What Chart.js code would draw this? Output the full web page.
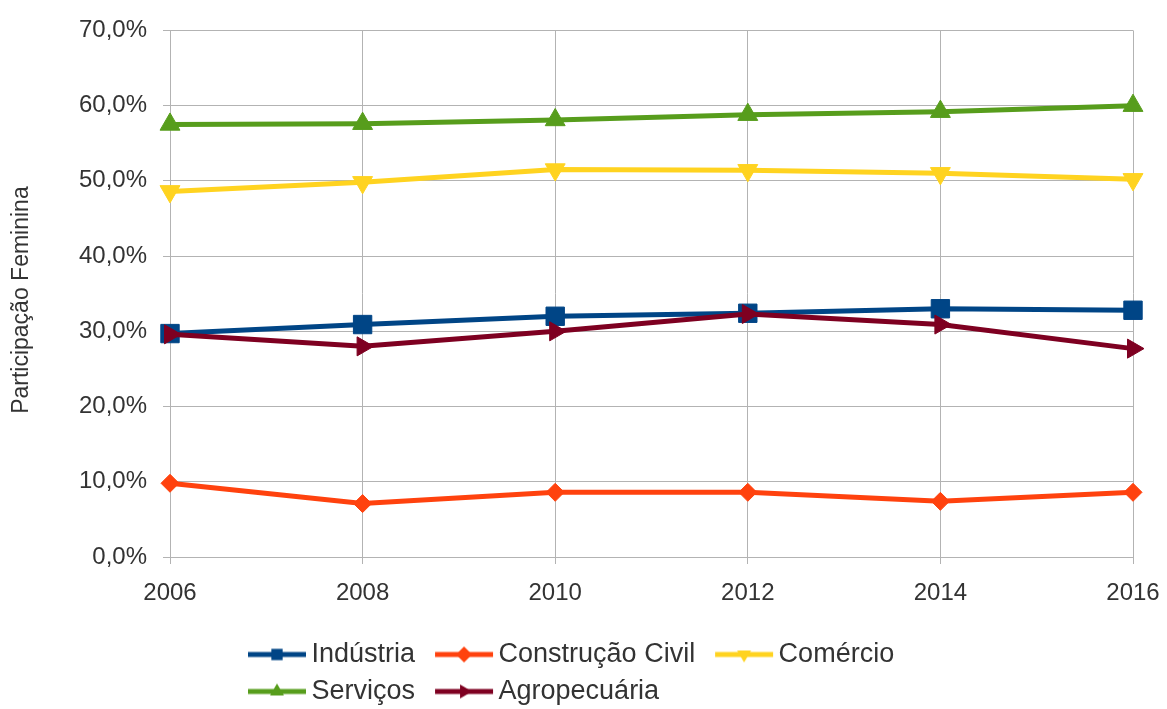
<!DOCTYPE html>
<html lang="pt">
<head>
  <meta charset="UTF-8" />
  <title>Participação Feminina</title>
  <script src="https://cdn.jsdelivr.net/npm/chart.js"></script>
  <style>
    body {
      margin: 0;
      background: #fff;
    }
    canvas {
      display: block;
    }
  </style>
</head>
<body>
  <canvas id="chart" width="1167" height="709"></canvas>

  <script>
    // data
    const years = ['2006', '2008', '2010', '2012', '2014', '2016'];
    const industria = [29.7, 30.9, 32.0, 32.4, 33.0, 32.8];
    const construcao = [9.8, 7.1, 8.6, 8.6, 7.4, 8.6];
    const comercio = [48.6, 49.8, 51.5, 51.4, 51.0, 50.2];
    const servicos = [57.5, 57.6, 58.1, 58.8, 59.2, 60.0];
    const agro = [29.6, 28.0, 30.0, 32.3, 30.9, 27.7];
    const yTicks = [0, 10, 20, 30, 40, 50, 60, 70];

    const FONT = "'Liberation Sans', Arial, sans-serif";
    const TEXT = '#333';
    const GRID = '#b3b3b3';

    function series(label, data, color, style, rotation, radius, order) {
      return {
        label: label,
        data: data,
        borderColor: color,
        backgroundColor: color,
        borderWidth: 5,
        pointStyle: style,
        pointRotation: rotation,
        pointRadius: radius,
        pointHoverRadius: radius,
        pointBorderWidth: 1,
        pointBorderColor: color,
        pointBackgroundColor: color,
        tension: 0,
        clip: false,
        order: order
      };
    }

    // legend icon: line + marker, drawn off-centre so the text sits close to it
    // box is 60 wide; canvas is 80 wide (10 spare each side), icon spans 20..78
    function legendIcon(ds) {
      const c = document.createElement('canvas');
      c.width = 80;
      c.height = 22;
      const g = c.getContext('2d');
      g.strokeStyle = ds.borderColor;
      g.lineWidth = 5;
      g.beginPath();
      g.moveTo(20, 11);
      g.lineTo(78, 11);
      g.stroke();
      g.fillStyle = ds.borderColor;
      Chart.helpers.drawPoint(g, {
        pointStyle: ds.pointStyle,
        rotation: ds.pointRotation,
        radius: 8,
        borderWidth: 0
      }, 49, 11);
      return c;
    }

    // keep the legend in a narrow block under the plot, two rows, left aligned
    const legendBlock = {
      id: 'legendBlock',
      beforeLayout(chart) {
        const l = chart.legend;
        if (l && !l._patched) {
          const fit = l.fit;
          l.fit = function () {
            fit.call(this);
            this.height = 95;
          };
          l._patched = true;
        }
      },
      afterLayout(chart) {
        const l = chart.legend;
        l.left = 228;
        l.right = 970;
        l.top = 631;
      }
    };

    const datasets = [
      series('Indústria', industria, '#004586', 'rect', 0, 13, 4),
      series('Construção Civil', construcao, '#ff420e', 'rectRot', 0, 9, 3),
      series('Comércio', comercio, '#ffd320', 'triangle', 180, 11.5, 2),
      series('Serviços', servicos, '#579d1c', 'triangle', 0, 11.5, 1),
      series('Agropecuária', agro, '#7e0021', 'triangle', 90, 11, 0)
    ];

    new Chart(document.getElementById('chart').getContext('2d'), {
      type: 'line',
      data: { labels: years, datasets: datasets },
      plugins: [legendBlock],
      options: {
        responsive: false,
        animation: false,
        layout: { padding: { top: 27, right: 34, bottom: 0, left: 0 } },
        scales: {
          x: {
            offset: false,
            afterFit(s) {
              s.height = 57;
              s.paddingLeft = 0;
              s.paddingRight = 0;
            },
            grid: { color: GRID, lineWidth: 1, tickLength: 7, offset: false },
            border: { color: GRID },
            ticks: { color: TEXT, font: { family: FONT, size: 24 }, padding: 15, maxRotation: 0 }
          },
          y: {
            min: 0,
            max: 70,
            afterFit(s) { s.width = 170; },
            afterBuildTicks(s) { s.ticks = yTicks.map(v => ({ value: v })); },
            grid: { color: GRID, lineWidth: 1, tickLength: 7 },
            border: { color: GRID },
            title: {
              display: true,
              text: 'Participação Feminina  ',
              color: TEXT,
              font: { family: FONT, size: 23 },
              padding: { top: 8, bottom: 0 }
            },
            ticks: {
              color: TEXT,
              font: { family: FONT, size: 24 },
              padding: 16,
              callback: v => v.toFixed(1).replace('.', ',') + '%'
            }
          }
        },
        plugins: {
          tooltip: { enabled: false },
          legend: {
            position: 'bottom',
            align: 'start',
            labels: {
              color: TEXT,
              font: { family: FONT, size: 27 },
              usePointStyle: true,
              pointStyleWidth: 60,
              boxHeight: 22,
              padding: 10,
              generateLabels(chart) {
                return chart.data.datasets.map((ds, i) => ({
                  text: ds.label,
                  datasetIndex: i,
                  pointStyle: legendIcon(ds),
                  rotation: 0,
                  fillStyle: ds.borderColor,
                  strokeStyle: ds.borderColor,
                  lineWidth: 0,
                  fontColor: TEXT,
                  hidden: false
                }));
              }
            }
          }
        }
      }
    });
  </script>
</body>
</html>
